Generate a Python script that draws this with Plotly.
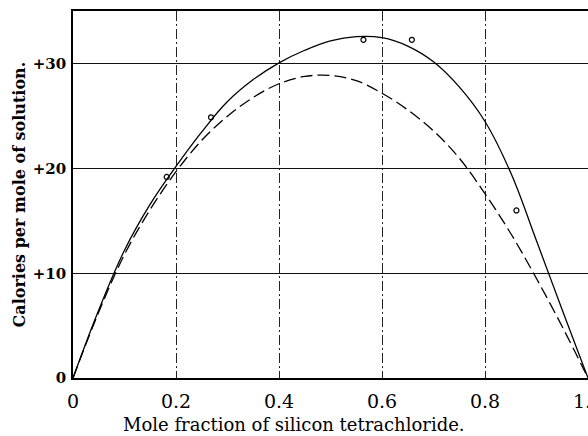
import plotly.graph_objects as go

# Observed data points
obs_x = [0.182, 0.268, 0.564, 0.658, 0.861]
obs_y = [19.2, 24.9, 32.3, 32.3, 16.0]

# Solid curve (fitted)
solid_x = [0, 0.05, 0.1, 0.15, 0.2, 0.25, 0.3, 0.35, 0.4, 0.45, 0.5, 0.55, 0.6, 0.65, 0.7, 0.75, 0.8, 0.85, 0.9, 0.95, 1.0]
solid_y = [0, 6.5, 12.2, 16.6, 20.2, 23.5, 26.4, 28.5, 30.1, 31.3, 32.2, 32.6, 32.5, 31.7, 30.2, 27.8, 24.5, 19.6, 13.1, 6.5, 0]

# Dashed curve (calculated)
dash_x = [0, 0.05, 0.1, 0.15, 0.2, 0.25, 0.3, 0.35, 0.4, 0.45, 0.5, 0.55, 0.6, 0.65, 0.7, 0.75, 0.8, 0.85, 0.9, 0.95, 1.0]
dash_y = [0, 6.3, 11.8, 16.1, 19.7, 22.7, 25.0, 26.8, 28.1, 28.8, 28.9, 28.4, 27.2, 25.6, 23.6, 21.0, 17.6, 13.8, 9.5, 4.9, 0]

x_ticks = [0, 0.2, 0.4, 0.6, 0.8, 1.0]
x_labels = ["0", "0.2", "0.4", "0.6", "0.8", "1.0"]
y_ticks = [0, 10, 20, 30]
y_labels = ["<b>0</b>", "<b>+10</b>", "<b>+20</b>", "<b>+30</b>"]

x_title = "Mole fraction of silicon tetrachloride."
y_title = "<b>Calories per mole of solution.</b>"

font = "DejaVu Serif, Liberation Serif, serif"

fig = go.Figure()
fig.add_trace(go.Scatter(x=solid_x, y=solid_y, mode="lines",
                         line=dict(color="black", width=1.3, shape="spline", smoothing=1.1),
                         showlegend=False, hoverinfo="skip"))
fig.add_trace(go.Scatter(x=dash_x, y=dash_y, mode="lines",
                         line=dict(color="black", width=1.3, shape="spline", smoothing=1.0, dash="12px,5px"),
                         showlegend=False, hoverinfo="skip"))
fig.add_trace(go.Scatter(x=obs_x, y=obs_y, mode="markers",
                         marker=dict(symbol="circle-open", size=5, color="black", line=dict(width=1.2)),
                         showlegend=False, hoverinfo="skip", cliponaxis=False))

fig.update_layout(
    width=588, height=436,
    margin=dict(l=73, r=0, t=11, b=58, autoexpand=False),
    paper_bgcolor="white", plot_bgcolor="white",
    font=dict(family=font, color="black"),
    xaxis=dict(range=[0, 1.0], tickvals=x_ticks, ticktext=x_labels, automargin=False,
               ticklabeloverflow="allow", ticklabelstandoff=5,
               showgrid=True, gridcolor="#222", gridwidth=1, griddash="10px,3px,2px,3px",
               zeroline=False, showline=True, linecolor="black", linewidth=1.5, mirror=True,
               ticks="", tickfont=dict(size=19, family=font)),
    yaxis=dict(range=[0, 35.05], tickvals=y_ticks, ticktext=y_labels, automargin=False,
               showgrid=True, gridcolor="#111", gridwidth=1.4,
               zeroline=False, showline=True, linecolor="black", linewidth=1.5, mirror=True,
               ticks="", tickfont=dict(size=15, family=font), ticklabelstandoff=2),
    annotations=[
        dict(text=x_title, xref="paper", yref="paper", x=0.429, y=-0.128,
             xanchor="center", yanchor="middle", showarrow=False,
             font=dict(size=18, family=font)),
        dict(text=y_title, xref="paper", yref="paper", x=-0.103, y=0.50,
             xanchor="center", yanchor="middle", showarrow=False, textangle=-90,
             font=dict(size=16, family=font)),
    ],
)

fig.write_html("out.html", config={"displayModeBar": False},
               post_script="document.body.style.margin='0';document.body.style.overflow='hidden';")
